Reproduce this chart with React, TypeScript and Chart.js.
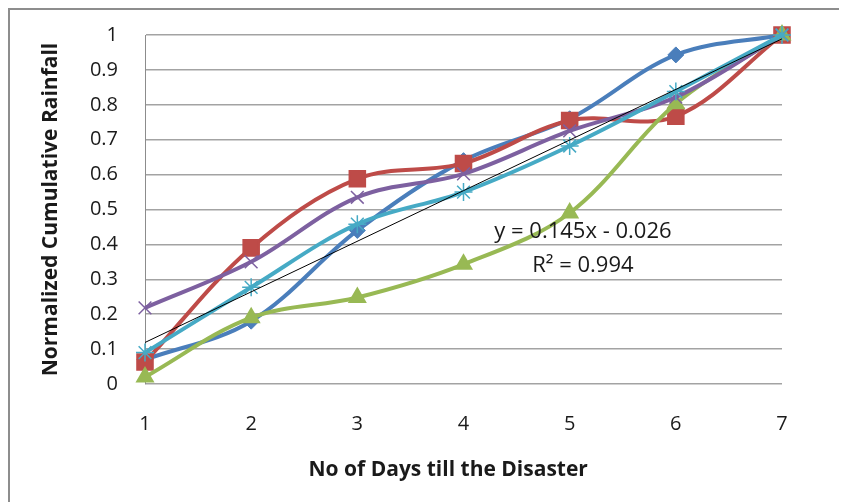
import { useEffect, useRef } from 'react';
import { Chart, registerables } from 'chart.js';

Chart.register(...registerables);

const days = [1, 2, 3, 4, 5, 6, 7];
const seriesBlue = [0.07, 0.18, 0.44, 0.64, 0.76, 0.943, 1.0];
const seriesRed = [0.063, 0.39, 0.588, 0.632, 0.755, 0.767, 1.0];
const seriesGreen = [0.02, 0.19, 0.248, 0.343, 0.49, 0.803, 1.0];
const seriesPurple = [0.218, 0.35, 0.535, 0.602, 0.725, 0.822, 1.0];
const seriesCyan = [0.09, 0.277, 0.458, 0.55, 0.682, 0.838, 1.0];
const trendDays = [1, 7];
const trendValues = [0.119, 0.989];
const yTicks = [0, 0.1, 0.2, 0.3, 0.4, 0.5, 0.6, 0.7, 0.8, 0.9, 1];
const trendLabelLines = ['y = 0.145x - 0.026', 'R² = 0.994'];
const xTitle = 'No of Days till the Disaster';
const yTitle = 'Normalized Cumulative Rainfall';

const FONT = '"Open Sans", Lato, "DejaVu Sans", sans-serif';

const toPoints = (xs: number[], ys: number[]) => xs.map((x, i) => ({ x, y: ys[i] }));

const textPlugin = {
  id: 'textLabels',
  afterDraw(chart: any) {
    const { ctx, scales, chartArea } = chart;
    const xs = scales.x;
    const ys = scales.y;
    ctx.save();
    ctx.fillStyle = '#1a1a1a';
    ctx.font = `22px ${FONT}`;
    ctx.textAlign = 'center';
    ctx.textBaseline = 'middle';
    const cx = xs.getPixelForValue(5.125);
    ctx.fillText(trendLabelLines[0], cx, ys.getPixelForValue(0.4355));
    ctx.fillText(trendLabelLines[1], cx, ys.getPixelForValue(0.34));
    ctx.font = `bold 21px ${FONT}`;
    const tx = chartArea.left + chartArea.width * 0.476;
    ctx.fillText(xTitle, tx, xs.bottom - 32);
    ctx.restore();
  },
};

export default function App() {
  const ref = useRef<HTMLCanvasElement | null>(null);

  useEffect(() => {
    if (!ref.current) return;
    const mk = (
      label: string,
      values: number[],
      color: string,
      pointStyle: string,
      radius: number,
      order: number,
      fill: boolean,
      pbw: number
    ) => ({
      label,
      data: toPoints(days, values),
      borderColor: color,
      backgroundColor: color,
      borderWidth: 4,
      tension: 0.35,
      pointStyle,
      pointRadius: radius,
      pointBackgroundColor: fill ? color : 'transparent',
      pointBorderColor: color,
      pointBorderWidth: pbw,
      order,
    });

    const chart = new Chart(ref.current, {
      type: 'line',
      data: {
        datasets: [
          mk('Series 1', seriesBlue, '#4A7EBB', 'rectRot', 8, 5, true, 1),
          mk('Series 2', seriesRed, '#BE4B48', 'rect', 11, 4, true, 2),
          mk('Series 3', seriesGreen, '#98B954', 'triangle', 9, 3, true, 2),
          mk('Series 4', seriesPurple, '#7D60A0', 'crossRot', 9, 2, false, 1.5),
          mk('Series 5', seriesCyan, '#46AAC5', 'star', 9, 1, false, 1.5),
          {
            label: 'Trend',
            data: toPoints(trendDays, trendValues),
            borderColor: '#000000',
            borderWidth: 1,
            pointRadius: 0,
            tension: 0,
            order: 0,
          } as any,
        ],
      },
      options: {
        animation: false,
        responsive: false,
        devicePixelRatio: 1,
        layout: { padding: { top: 25, right: 63, left: 0, bottom: 0 } },
        plugins: {
          legend: { display: false },
          tooltip: { enabled: false },
        },
        datasets: { line: { clip: false } as any },
        scales: {
          x: {
            type: 'linear',
            min: 1,
            max: 7,
            afterFit: (s: any) => {
              s.height = 118;
              s.paddingLeft = 0;
              s.paddingRight = 0;
            },
            grid: { display: false, drawTicks: false },
            border: { display: false },
            ticks: {
              stepSize: 1,
              padding: 28,
              color: '#1a1a1a',
              font: { family: FONT, size: 20 },
            },
            title: { display: false },
          },
          y: {
            type: 'linear',
            min: 0,
            max: 1,
            afterFit: (s: any) => {
              s.width = 135;
              s.paddingTop = 0;
              s.paddingBottom = 0;
            },
            afterBuildTicks: (s: any) => {
              s.ticks = yTicks.map((v) => ({ value: v }));
            },
            grid: { color: '#a3a3a3', lineWidth: 1.5, drawTicks: false },
            border: { display: true, color: '#8c8c8c', width: 1 },
            ticks: {
              padding: 27,
              color: '#1a1a1a',
              font: { family: FONT, size: 20 },
              callback: (v: any) => String(Math.round(Number(v) * 10) / 10),
            },
            title: {
              display: true,
              text: yTitle,
              color: '#1a1a1a',
              font: { family: FONT, size: 21, weight: 'bold' },
              padding: { top: 28, bottom: 0 },
            },
          },
        },
      } as any,
      plugins: [textPlugin],
    });
    return () => chart.destroy();
  }, []);

  return (
    <div
      style={{
        width: 835,
        height: 492,
        borderTop: '2px solid #8d8d8d',
        borderLeft: '2px solid #8d8d8d',
        overflow: 'hidden',
        background: '#fff',
      }}
    >
      <canvas ref={ref} width={835} height={492} style={{ display: 'block', width: 835, height: 492 }} />
    </div>
  );
}
